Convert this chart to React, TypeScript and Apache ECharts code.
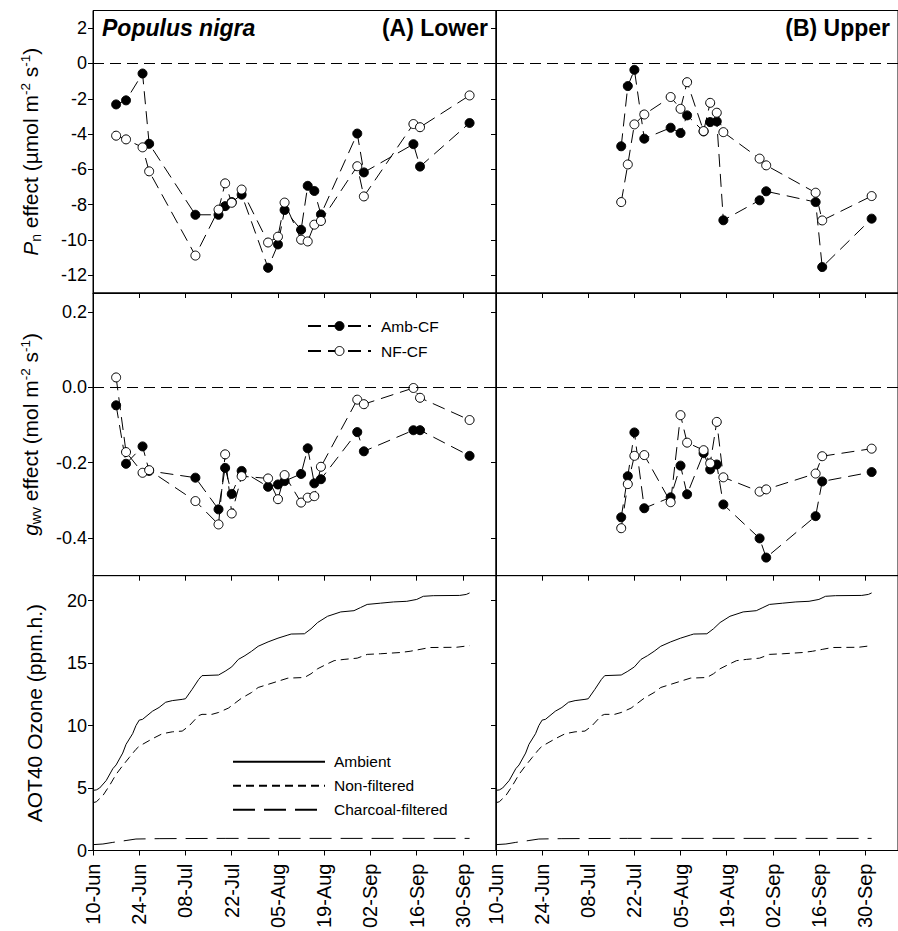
import React, { useEffect, useRef } from 'react';
import * as echarts from 'echarts';

const FONT = '"Liberation Sans", Arial, Helvetica, sans-serif';
const MONTHS = ['Jan', 'Feb', 'Mar', 'Apr', 'May', 'Jun', 'Jul', 'Aug', 'Sep', 'Oct', 'Nov', 'Dec'];

// x-axis tick labels (dates)
const xTickLabels = ['10-Jun', '24-Jun', '08-Jul', '22-Jul', '05-Aug', '19-Aug', '02-Sep', '16-Sep', '30-Sep'];
const xStart = '10-Jun';
const xEnd = '10-Oct';

// measurement dates
const lowerDates = ['17-Jun', '20-Jun', '25-Jun', '27-Jun', '11-Jul', '18-Jul', '20-Jul', '22-Jul', '25-Jul', '02-Aug', '05-Aug', '07-Aug', '12-Aug', '14-Aug', '16-Aug', '18-Aug', '29-Aug', '31-Aug', '15-Sep', '17-Sep', '02-Oct'];
const upperDates = ['18-Jul', '20-Jul', '22-Jul', '25-Jul', '02-Aug', '05-Aug', '07-Aug', '12-Aug', '14-Aug', '16-Aug', '18-Aug', '29-Aug', '31-Aug', '15-Sep', '17-Sep', '02-Oct'];

// Pn effect (µmol m-2 s-1)
const pnLowerAmb = [-2.32, -2.09, -0.57, -4.55, -8.57, -8.57, -8.08, -7.85, -7.43, -11.57, -10.25, -8.3, -9.42, -6.93, -7.22, -8.55, -3.97, -6.17, -4.57, -5.84, -3.37];
const pnLowerNF = [-4.09, -4.3, -4.75, -6.11, -10.88, -8.28, -6.79, -7.89, -7.14, -10.14, -9.81, -7.88, -9.98, -10.08, -9.13, -8.92, -5.82, -7.53, -3.43, -3.61, -1.81];
const pnUpperAmb = [-4.69, -1.28, -0.36, -4.26, -3.64, -3.94, -2.94, -3.85, -3.32, -3.28, -8.88, -7.75, -7.24, -7.85, -11.53, -8.79];
const pnUpperNF = [-7.85, -5.72, -3.45, -2.89, -1.9, -2.57, -1.06, -3.83, -2.23, -2.79, -3.89, -5.39, -5.77, -7.32, -8.89, -7.51];

// gwv effect (mol m-2 s-1)
const gLowerAmb = [-0.048, -0.203, -0.157, -0.222, -0.24, -0.324, -0.214, -0.283, -0.222, -0.264, -0.258, -0.249, -0.23, -0.162, -0.255, -0.244, -0.119, -0.17, -0.114, -0.114, -0.182];
const gLowerNF = [0.026, -0.172, -0.227, -0.22, -0.302, -0.364, -0.178, -0.335, -0.236, -0.242, -0.297, -0.233, -0.306, -0.293, -0.289, -0.211, -0.033, -0.045, -0.002, -0.028, -0.087];
const gUpperAmb = [-0.345, -0.236, -0.12, -0.321, -0.292, -0.208, -0.284, -0.175, -0.218, -0.205, -0.311, -0.401, -0.452, -0.342, -0.25, -0.225];
const gUpperNF = [-0.374, -0.257, -0.182, -0.18, -0.305, -0.074, -0.147, -0.167, -0.202, -0.092, -0.239, -0.277, -0.271, -0.229, -0.183, -0.163];

// AOT40 ozone (ppm.h.), day offsets from 10-Jun
const ambDays = [0, 1, 2, 4, 6, 7, 9, 10, 12, 13, 14, 15, 18, 20, 22, 24, 27, 28, 30, 32, 33, 38, 40, 42, 44, 46, 48, 50, 53, 56, 59, 60, 64, 66, 68, 71, 75, 79, 81, 83, 87, 91, 95, 98, 100, 103, 111, 113, 114];
const ambAOT = [4.82, 4.85, 5.0, 5.6, 6.55, 6.85, 7.8, 8.5, 9.35, 10.0, 10.44, 10.5, 11.15, 11.45, 11.87, 12.0, 12.1, 12.15, 12.9, 13.7, 14.0, 14.05, 14.35, 14.7, 15.3, 15.6, 15.95, 16.35, 16.7, 17.0, 17.25, 17.33, 17.35, 17.75, 18.25, 18.75, 19.1, 19.2, 19.45, 19.7, 19.8, 19.9, 19.95, 20.1, 20.35, 20.4, 20.42, 20.5, 20.62];
const nfDays = [0, 1, 3, 5, 7, 9, 11, 13, 14, 15, 18, 21, 24, 27, 29, 32, 33, 36, 38, 41, 43, 45, 48, 50, 53, 56, 59, 64, 66, 68, 71, 73, 76, 80, 83, 87, 93, 96, 99, 102, 110, 114];
const nfAOT = [3.83, 3.9, 4.4, 5.2, 6.1, 6.8, 7.45, 8.1, 8.35, 8.5, 8.95, 9.35, 9.5, 9.56, 9.95, 10.8, 10.9, 10.9, 11.05, 11.4, 11.8, 12.2, 12.65, 13.05, 13.3, 13.55, 13.8, 13.85, 14.15, 14.55, 14.95, 15.2, 15.3, 15.4, 15.7, 15.75, 15.85, 15.95, 16.1, 16.25, 16.27, 16.4];
const cfDays = [0, 3, 6, 10, 13, 20, 40, 114];
const cfAOT = [0.47, 0.52, 0.65, 0.8, 0.92, 0.95, 0.97, 0.97];

// y-axis ticks
const pnTicks = [-12, -10, -8, -6, -4, -2, 0, 2];
const gTicks = [-0.4, -0.2, 0, 0.2];
const aotTicks = [0, 5, 10, 15, 20];

function dayOf(s: string): number {
  const [d, m] = s.split('-');
  const mi = MONTHS.indexOf(m);
  return Math.round((Date.UTC(2000, mi, Number(d)) - Date.UTC(2000, 5, 10)) / 86400000);
}
const xTickDays = xTickLabels.map(dayOf);
const xMin = dayOf(xStart);
const xMax = dayOf(xEnd);

const pairs = (dates: string[], vals: number[]) => dates.map((d, i) => [dayOf(d), vals[i]]);
const pairsN = (days: number[], vals: number[]) => days.map((d, i) => [d, vals[i]]);

const GL = 93, GR = 496, W = 403;
const rows = [
  { top: 10.5, height: 282.5 },
  { top: 293, height: 282.7 },
  { top: 575.7, height: 283 },
];

const App: React.FC = () => {
  const ref = useRef<HTMLDivElement>(null);
  useEffect(() => {
    if (!ref.current) return;
    const chart = echarts.init(ref.current, undefined, { renderer: 'svg' });

    const grids: any[] = [];
    rows.forEach((r) => {
      [GL, GR].forEach((l) => {
        grids.push({ left: l, top: r.top, width: W, height: r.height, show: true, borderColor: '#000', borderWidth: 1, backgroundColor: '#fff', containLabel: false });
      });
    });

    const xAxes = grids.map((_, i) => ({
      type: 'value', gridIndex: i, min: xMin, max: xMax,
      axisLine: { show: true, onZero: false, lineStyle: { color: '#000', width: 1 } },
      axisTick: { show: true, inside: false, length: 5, customValues: xTickDays, lineStyle: { color: '#000', width: 1 } },
      axisLabel: {
        show: i >= 4, customValues: xTickDays, rotate: 90, margin: 13, fontSize: 20, color: '#000', fontFamily: FONT,
        formatter: (v: number) => { const k = xTickDays.indexOf(Math.round(v)); return k >= 0 ? xTickLabels[k] : ''; },
      },
      splitLine: { show: false },
    }));

    const nameRich = {
      t: { fontSize: 21, fontFamily: FONT, color: '#000', lineHeight: 25 },
      i: { fontSize: 21, fontFamily: FONT, color: '#000', lineHeight: 25, fontStyle: 'italic' },
      sub: { fontSize: 14, fontFamily: FONT, color: '#000', lineHeight: 14, verticalAlign: 'bottom' },
      sup: { fontSize: 13.5, fontFamily: FONT, color: '#000', lineHeight: 13, verticalAlign: 'top' },
    };

    const yDefs = [
      { min: -13, max: 3, ticks: pnTicks, fmt: (v: number) => String(v), name: '{i|P}{sub|n}{t| effect (µmol m}{sup|-2}{t| s}{sup|-1}{t|)}', gap: 50 },
      { min: -0.5, max: 0.25, ticks: gTicks, fmt: (v: number) => v.toFixed(1), name: '{i|g}{sub|wv}{t| effect (mol m}{sup|-2}{t| s}{sup|-1}{t|)}', gap: 50 },
      { min: 0, max: 22, ticks: aotTicks, fmt: (v: number) => String(v), name: 'AOT40 Ozone (ppm.h.)', gap: 48 },
    ];

    const yAxes = grids.map((_, i) => {
      const row = Math.floor(i / 2);
      const left = i % 2 === 0;
      const d = yDefs[row];
      return {
        type: 'value', gridIndex: i, min: d.min, max: d.max,
        name: left ? d.name : '', nameLocation: 'middle', nameRotate: 90, nameGap: d.gap,
        nameTextStyle: { fontSize: 21, fontFamily: FONT, color: '#000', rich: nameRich },
        axisLine: { show: true, onZero: false, lineStyle: { color: '#000', width: 1 } },
        axisTick: { show: true, inside: false, length: 5, customValues: d.ticks, lineStyle: { color: '#000', width: 1 } },
        axisLabel: { show: left, customValues: d.ticks, margin: 6, fontSize: 18, color: '#000', fontFamily: FONT, formatter: d.fmt },
        splitLine: { show: false },
      };
    });

    const dash = [13, 7];
    const effSeries = (name: string, idx: number, data: number[][], open: boolean, zero: boolean) => ({
      type: 'line', name, xAxisIndex: idx, yAxisIndex: idx, data,
      symbol: 'circle', symbolSize: 9, showSymbol: true,
      lineStyle: { color: '#000', width: 1, type: dash },
      itemStyle: { color: open ? '#fff' : '#000', borderColor: '#000', borderWidth: 1 },
      emphasis: { disabled: true }, silent: true, z: open ? 3 : 2,
      markLine: zero ? {
        silent: true, symbol: 'none', label: { show: false },
        lineStyle: { color: '#000', width: 1, type: [11, 6] },
        data: [{ yAxis: 0 }],
      } : undefined,
    });

    const aotSeries = (name: string, idx: number, data: number[][], type: any) => ({
      type: 'line', name, xAxisIndex: idx, yAxisIndex: idx, data,
      symbol: 'none', showSymbol: false,
      lineStyle: { color: '#000', width: 1, type },
      itemStyle: { color: '#000' },
      emphasis: { disabled: true }, silent: true,
    });

    const series: any[] = [
      effSeries('Amb-CF', 0, pairs(lowerDates, pnLowerAmb), false, true),
      effSeries('NF-CF', 0, pairs(lowerDates, pnLowerNF), true, false),
      effSeries('Amb-CF', 1, pairs(upperDates, pnUpperAmb), false, true),
      effSeries('NF-CF', 1, pairs(upperDates, pnUpperNF), true, false),
      effSeries('Amb-CF', 2, pairs(lowerDates, gLowerAmb), false, true),
      effSeries('NF-CF', 2, pairs(lowerDates, gLowerNF), true, false),
      effSeries('Amb-CF', 3, pairs(upperDates, gUpperAmb), false, true),
      effSeries('NF-CF', 3, pairs(upperDates, gUpperNF), true, false),
    ];
    [4, 5].forEach((idx) => {
      series.push(aotSeries('Ambient', idx, pairsN(ambDays, ambAOT), 'solid'));
      series.push(aotSeries('Non-filtered', idx, pairsN(nfDays, nfAOT), [8, 5]));
      series.push(aotSeries('Charcoal-filtered', idx, pairsN(cfDays, cfAOT), [22, 9]));
    });

    const option: any = {
      animation: false,
      backgroundColor: '#fff',
      grid: grids,
      xAxis: xAxes,
      yAxis: yAxes,
      series,
      legend: [
        {
          data: ['Amb-CF', 'NF-CF'], orient: 'vertical', left: 307, top: 318, padding: 0, selectedMode: false,
          itemWidth: 63, itemHeight: 11.25, itemGap: 9,
          itemStyle: { borderWidth: 1 },
          textStyle: { fontSize: 15.5, fontFamily: FONT, color: '#000', padding: [0, 0, 0, 5] },
        },
        {
          data: ['Ambient', 'Non-filtered', 'Charcoal-filtered'], orient: 'vertical', left: 232, top: 753.7, padding: 0, selectedMode: false,
          itemWidth: 92, itemHeight: 10, itemGap: 8,
          itemStyle: { color: 'rgba(0,0,0,0)', borderColor: 'rgba(0,0,0,0)', borderWidth: 0 },
          textStyle: { fontSize: 15.5, fontFamily: FONT, color: '#000', padding: [0, 0, 0, 4] },
        },
      ],
      graphic: [
        { type: 'text', x: 102, y: 27.5, style: { text: 'Populus nigra', fontSize: 23, fontWeight: 'bold', fontStyle: 'italic', fontFamily: FONT, fill: '#000', textVerticalAlign: 'middle', textAlign: 'left' } },
        { type: 'text', x: 488, y: 27.5, style: { text: '(A) Lower', fontSize: 23, fontWeight: 'bold', fontFamily: FONT, fill: '#000', textVerticalAlign: 'middle', textAlign: 'right' } },
        { type: 'text', x: 890, y: 27.5, style: { text: '(B) Upper', fontSize: 23, fontWeight: 'bold', fontFamily: FONT, fill: '#000', textVerticalAlign: 'middle', textAlign: 'right' } },
      ],
    };
    chart.setOption(option);
    return () => chart.dispose();
  }, []);
  return <div ref={ref} style={{ position: 'absolute', left: 0, top: 0, width: 898, height: 931 }} />;
};

export default App;
